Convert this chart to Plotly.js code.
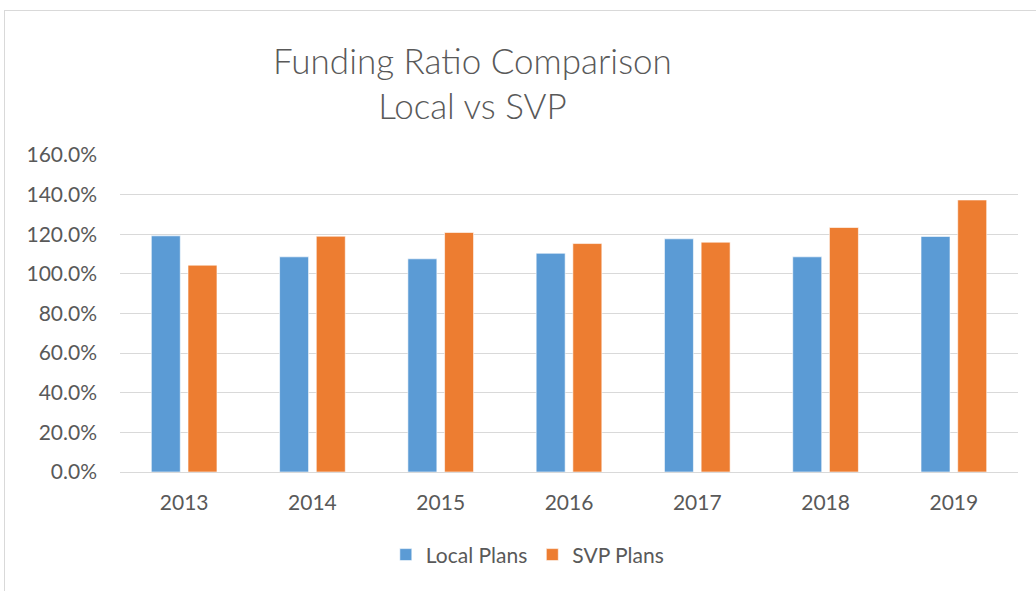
<!DOCTYPE html>
<html><head><meta charset="utf-8">
<script src="https://cdn.plot.ly/plotly-3.0.1.min.js"></script>
<style>
html,body{margin:0;padding:0;background:#fff;overflow:hidden;}
#frame{position:absolute;left:4px;top:10px;width:1100px;height:700px;border:1px solid #d9d9d9;}
#chart{position:absolute;left:0;top:0;width:1036px;height:591px;}
</style></head>
<body>
<div id="frame"></div>
<div id="chart"></div>
<script>
const years = ['2013','2014','2015','2016','2017','2018','2019'];
const localPlans = [1.192, 1.086, 1.076, 1.104, 1.177, 1.086, 1.189];
const svpPlans   = [1.044, 1.190, 1.209, 1.153, 1.160, 1.234, 1.373];

const font = 'Lato, "Open Sans", sans-serif';
const traces = [
  {type:'bar', name:'Local Plans', x:years, y:localPlans,
   marker:{color:'#5B9BD5', line:{color:'rgba(255,255,255,0.6)', width:1}}},
  {type:'bar', name:'SVP Plans', x:years, y:svpPlans,
   marker:{color:'#ED7D31', line:{color:'rgba(255,255,255,0.6)', width:1}}}
];
const layout = {
  width:1036, height:591,
  paper_bgcolor:'rgba(0,0,0,0)', plot_bgcolor:'rgba(0,0,0,0)',
  margin:{l:120, r:18, t:155, b:119},
  barmode:'group', bargap:0.428, bargroupgap:0.21,
  hovermode:false, showlegend:true,
  font:{family:font, color:'#595959', size:21},
  title:{text:'Funding Ratio Comparison<br>Local vs SVP', xref:'container', yref:'container',
         x:0.456, xanchor:'center', y:0.875, yanchor:'top',
         font:{family:font, size:35, color:'#595959', weight:300}},
  xaxis:{type:'category', showgrid:false, showline:true, linecolor:'#d9d9d9', linewidth:1,
         ticks:'', tickfont:{size:21, color:'#595959'}, ticklabelstandoff:12},
  yaxis:{range:[0,1.6], dtick:0.2, tickformat:'.1%', showgrid:true, gridcolor:'#d9d9d9', gridwidth:1,
         zeroline:false, showline:false, ticks:'', tickfont:{size:21, color:'#595959'}, ticklabelstandoff:22},
  legend:{orientation:'h', xref:'container', yref:'container', x:0.509, xanchor:'center',
          y:0.061, yanchor:'middle', font:{size:21, color:'#595959'}, itemwidth:30, traceorder:'normal'}
};
Plotly.newPlot('chart', traces, layout, {displayModeBar:false, staticPlot:true});
</script>
</body></html>
